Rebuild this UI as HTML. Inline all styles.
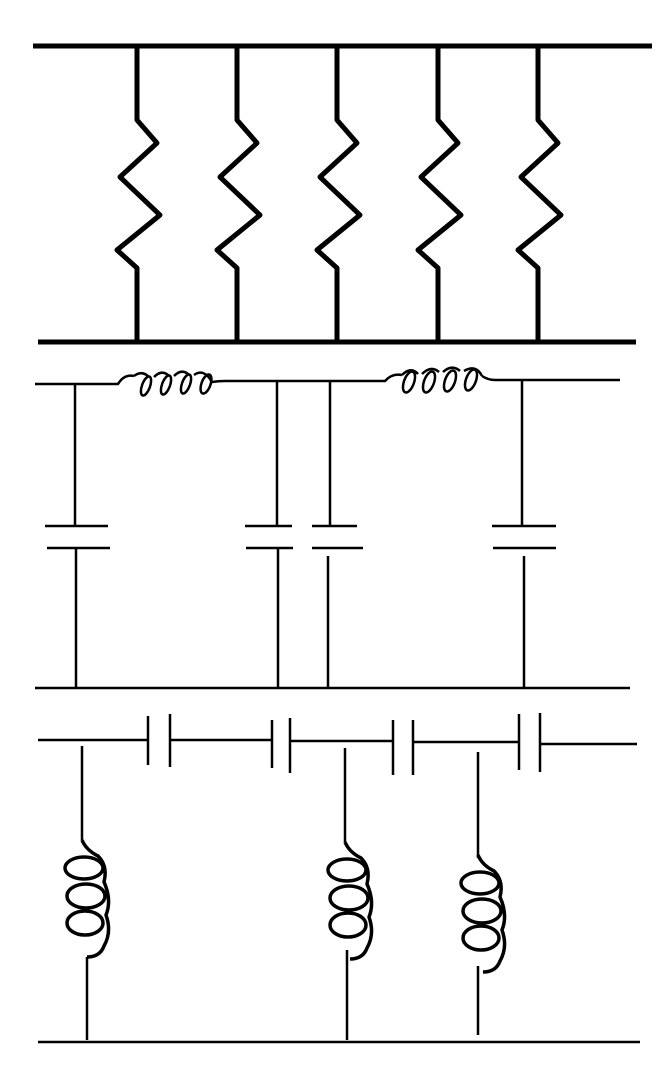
<!DOCTYPE html><html><head><style>html,body{margin:0;padding:0;background:#fff}svg{display:block}</style></head><body>
<svg width="657" height="1072" viewBox="0 0 657 1072" xmlns="http://www.w3.org/2000/svg" fill="none" stroke="#000" stroke-linejoin="round">
<g stroke-width="5">
<line x1="33" y1="46" x2="652" y2="46"/>
<line x1="38" y1="342" x2="636" y2="342"/>
<g id="r"><path d="M137 46 V120 L157 143 L120 177 L160 215 L117 250 L137 268 V342"/></g>
<use href="#r" x="100"/><use href="#r" x="200"/><use href="#r" x="301"/><use href="#r" x="401"/>
</g>
<g stroke-width="2.5">
<path d="M35 384 H118 Q124 374 134 376 M212 382 Q218 381 225 381 H385 Q392 373 402 375 M482 376 Q488 380 495 380 H620"/>
<g stroke-width="2.5">
<ellipse cx="146" cy="386" rx="4" ry="10" transform="rotate(20 146 386)"/>
<ellipse cx="166" cy="385" rx="4" ry="10" transform="rotate(20 166 385)"/>
<ellipse cx="186" cy="384" rx="4" ry="10" transform="rotate(20 186 384)"/>
<ellipse cx="206" cy="384" rx="4.5" ry="10" transform="rotate(20 206 384)"/>
<path d="M134 376 Q142 370 149 377 M154 377 Q162 369 169 376 M174 376 Q182 368 189 375 M194 375 Q204 368 212 382"/>
<ellipse cx="409" cy="382" rx="5" ry="11" transform="rotate(20 409 382)"/>
<ellipse cx="429" cy="382" rx="5" ry="11" transform="rotate(20 429 382)"/>
<ellipse cx="450" cy="381" rx="5" ry="11" transform="rotate(20 450 381)"/>
<ellipse cx="471" cy="380" rx="5" ry="11" transform="rotate(20 471 380)"/>
<path d="M402 375 Q411 366 418 374 M422 374 Q431 365 439 372 M443 372 Q452 364 460 371 M464 371 Q476 364 482 376"/>
</g>
<path d="M75 384 V526 M45 526 H108 M47 548 H110 M76 548 V688"/>
<path d="M277 381 V526 M245 526 H292 M246 548 H293 M278 548 V688"/>
<path d="M330 381 V526 M312 526 H357 M312 548 H363 M328 556 V688"/>
<path d="M522 380 V526 M492 526 H556 M493 548 H556 M524 556 V688"/>
<line x1="35" y1="688" x2="630" y2="688"/>
<path d="M38 740 H148 M170 740 H272 M290 741 H393 M413 742 H519 M540 744 H637"/>
<path d="M148 716 V765 M170 714 V767 M272 720 V768 M290 718 V773 M393 720 V775 M413 720 V775 M519 714 V770 M540 713 V772"/>
<line x1="38" y1="1042" x2="640" y2="1042"/>
<path d="M82 746 V840 M87 957 V1040"/>
<path d="M345 748 V842 M347 950 V1040"/>
<path d="M478 752 V858 M478 966 V1035"/>
</g>
<g stroke-width="3.5">
<g id="c">
<path d="M82 840 Q86 850 98 856 Q108 866 104 882 Q112 900 106 915 Q112 932 104 946 Q100 957 87 957"/>
<ellipse cx="84" cy="868" rx="19" ry="11"/>
<ellipse cx="86" cy="896" rx="19" ry="12"/>
<ellipse cx="85" cy="923" rx="18" ry="12"/>
</g>
<use href="#c" x="263" y="2"/>
<use href="#c" x="396" y="15"/>
</g>
</svg>
</body></html>
